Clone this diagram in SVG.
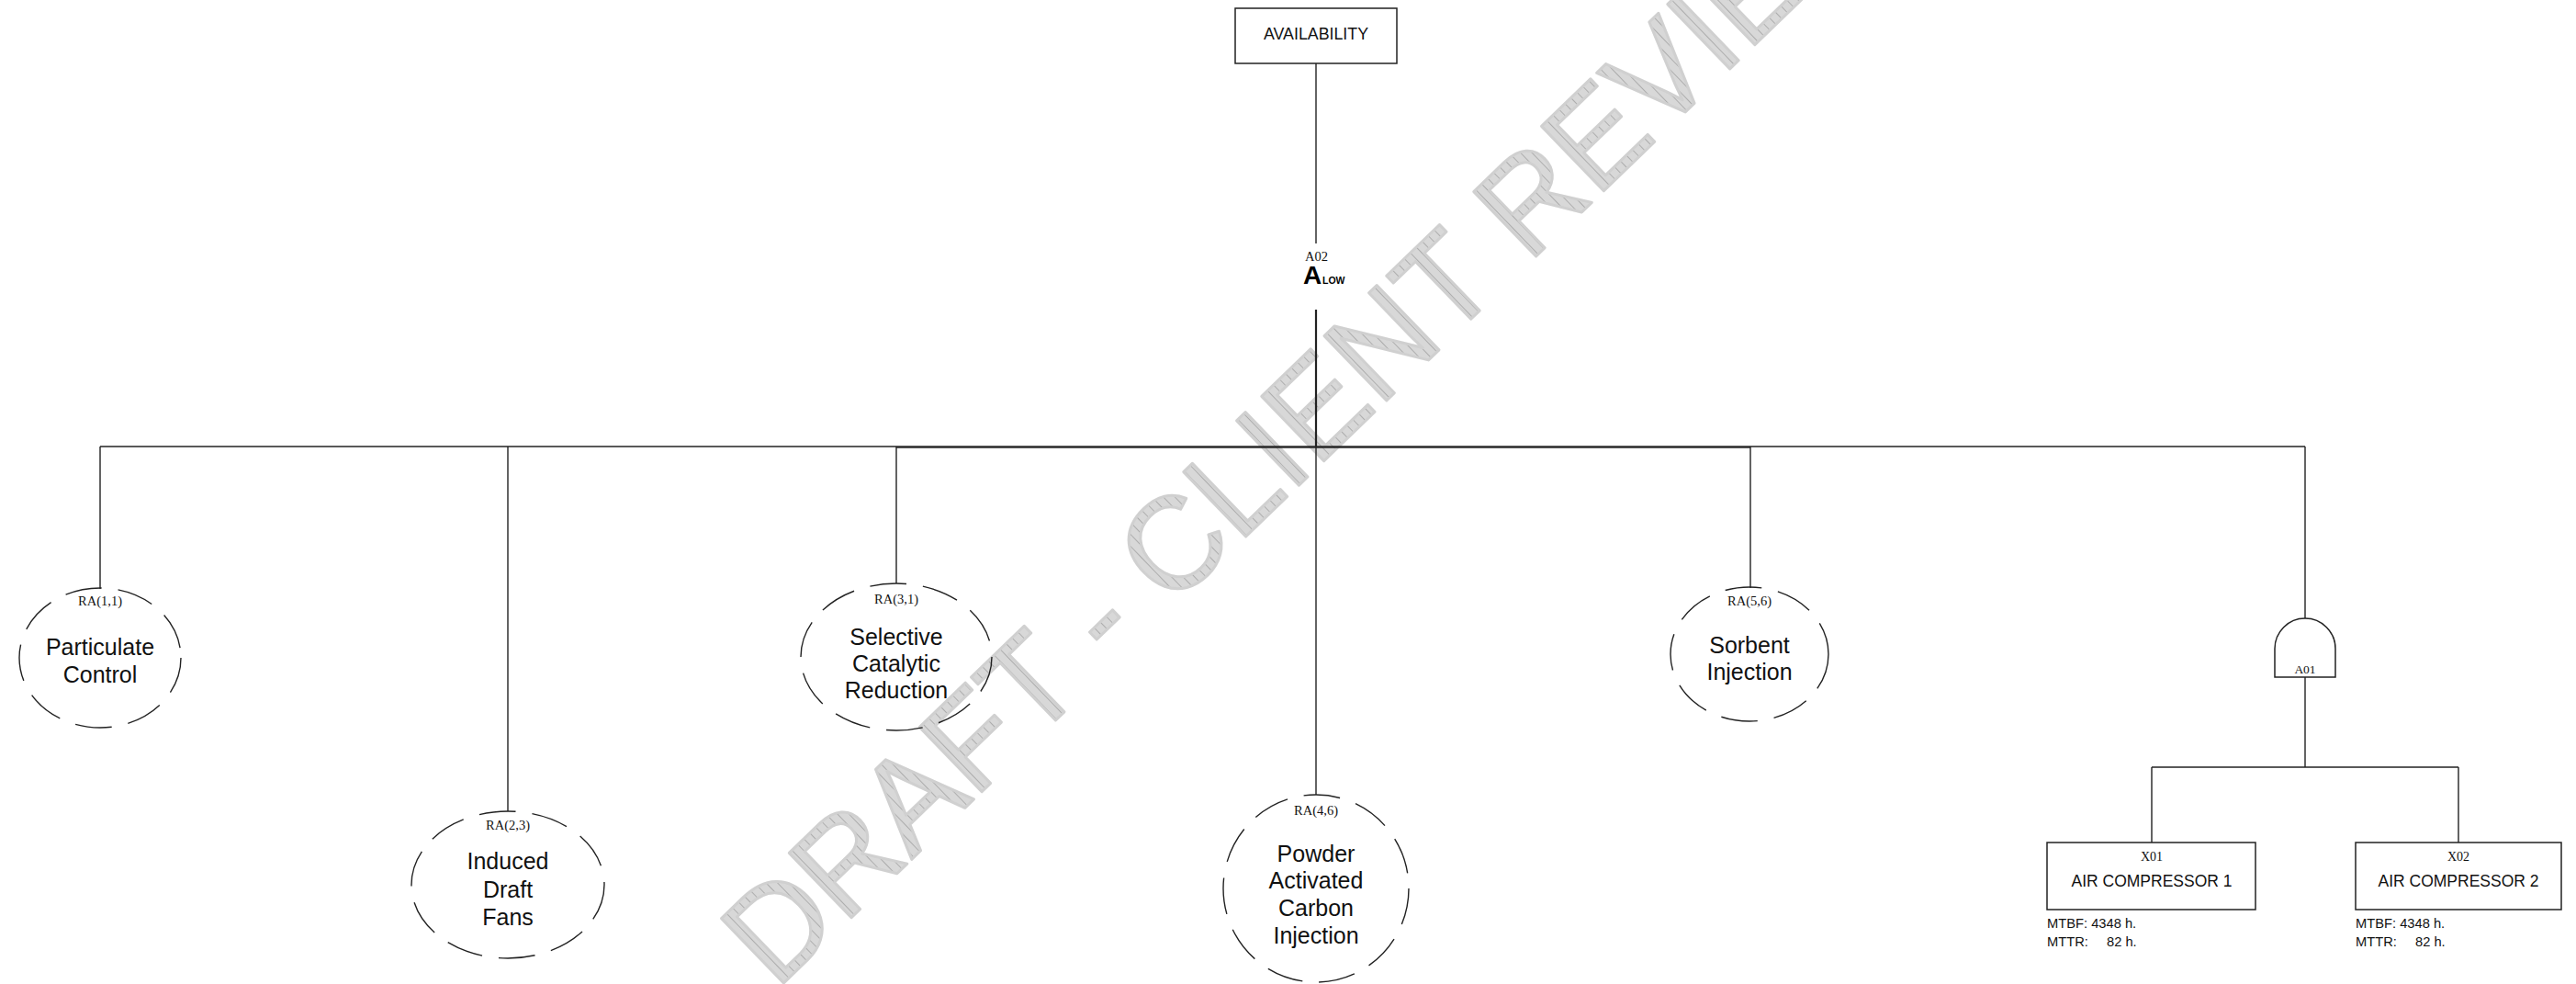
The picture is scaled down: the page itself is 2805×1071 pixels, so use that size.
<svg xmlns="http://www.w3.org/2000/svg" width="2805" height="1071" viewBox="0 0 2805 1071">
<style>
.ln{stroke:#222;stroke-width:1.4;fill:none}
.box{fill:#fff;stroke:#222;stroke-width:1.5}
.ell{fill:none;stroke:#222;stroke-width:1.4;stroke-dasharray:40 18}
.lbl{font-family:"Liberation Serif","Times New Roman",serif;font-size:14.5px;fill:#111;text-anchor:middle}
.big{font-family:"Liberation Sans",Arial,sans-serif;font-size:25px;fill:#111;text-anchor:middle}
.bx{font-family:"Liberation Sans",Arial,sans-serif;font-size:17.5px;fill:#111;text-anchor:middle}
.sm{font-family:"Liberation Sans",Arial,sans-serif;font-size:14.7px;fill:#111}
</style>
<defs>
<pattern id="hatch" width="9" height="9" patternUnits="userSpaceOnUse">
<rect width="9" height="9" fill="#d8d8d8"/>
<line x1="0.5" y1="0" x2="0.5" y2="9" stroke="#adadad" stroke-width="1"/>
</pattern>
</defs>
<text x="845" y="1078" transform="rotate(-44 845 1078)" font-family="'Liberation Sans',Arial,sans-serif" font-size="142" fill="url(#hatch)" stroke="#d0d0d0" stroke-width="3" stroke-linejoin="round">DRAFT - CLIENT REVIEW</text>
<g id="connectors">
<line class="ln" x1="1433" y1="69" x2="1433" y2="265"/>
<line class="ln" x1="1433" y1="337" x2="1433" y2="486" style="stroke-width:2.2"/>
<line class="ln" x1="109" y1="486" x2="2510" y2="486"/>
<line class="ln" x1="976" y1="487" x2="1906" y2="487"/>
<line class="ln" x1="109" y1="486" x2="109" y2="641"/>
<line class="ln" x1="553" y1="486" x2="553" y2="883"/>
<line class="ln" x1="976" y1="486" x2="976" y2="635"/>
<line class="ln" x1="1433" y1="486" x2="1433" y2="865"/>
<line class="ln" x1="1906" y1="486" x2="1906" y2="640"/>
<line class="ln" x1="2510" y1="486" x2="2510" y2="673"/>
<line class="ln" x1="2510" y1="737" x2="2510" y2="835"/>
<line class="ln" x1="2343" y1="835" x2="2677" y2="835"/>
<line class="ln" x1="2343" y1="835" x2="2343" y2="917"/>
<line class="ln" x1="2677" y1="835" x2="2677" y2="917"/>
</g>
<g id="availability">
<rect class="box" x="1345" y="9" width="176" height="60"/>
<text class="bx" x="1433" y="43" textLength="114" lengthAdjust="spacingAndGlyphs" style="font-size:18px">AVAILABILITY</text>
</g>
<g id="A02">
<text class="lbl" x="1421" y="284" style="text-anchor:start">A02</text>
<text x="1419" y="309" font-family="'Liberation Sans',Arial,sans-serif" font-weight="bold" font-size="28" fill="#000">A</text>
<text x="1440" y="309" font-family="'Liberation Sans',Arial,sans-serif" font-weight="bold" font-size="10.5" fill="#000">LOW</text>
</g>
<g id="RA11">
<ellipse class="ell" cx="109" cy="716" rx="88" ry="76"/>
<text class="lbl" x="109" y="659">RA(1,1)</text>
<text class="big" x="109" y="713">Particulate</text>
<text class="big" x="109" y="743">Control</text>
</g>
<g id="RA23">
<ellipse class="ell" cx="553" cy="963" rx="105" ry="80"/>
<text class="lbl" x="553" y="903">RA(2,3)</text>
<text class="big" x="553" y="946">Induced</text>
<text class="big" x="553" y="977">Draft</text>
<text class="big" x="553" y="1007">Fans</text>
</g>
<g id="RA31">
<ellipse class="ell" cx="976" cy="715" rx="104" ry="80"/>
<text class="lbl" x="976" y="657">RA(3,1)</text>
<text class="big" x="976" y="702">Selective</text>
<text class="big" x="976" y="731">Catalytic</text>
<text class="big" x="976" y="760">Reduction</text>
</g>
<g id="RA46">
<ellipse class="ell" cx="1433" cy="967" rx="101" ry="102"/>
<text class="lbl" x="1433" y="887">RA(4,6)</text>
<text class="big" x="1433" y="938">Powder</text>
<text class="big" x="1433" y="967">Activated</text>
<text class="big" x="1433" y="997">Carbon</text>
<text class="big" x="1433" y="1027">Injection</text>
</g>
<g id="RA56">
<ellipse class="ell" cx="1905" cy="712" rx="86" ry="73"/>
<text class="lbl" x="1905" y="659">RA(5,6)</text>
<text class="big" x="1905" y="711">Sorbent</text>
<text class="big" x="1905" y="740">Injection</text>
</g>
<g id="A01">
<path class="box" d="M2477,737 V706 A33,33 0 0 1 2543,706 V737 Z"/>
<text class="lbl" x="2510" y="733" style="font-size:13.5px">A01</text>
</g>
<g id="X01">
<rect class="box" x="2229" y="917" width="227" height="73"/>
<text class="lbl" x="2343" y="937" style="font-size:14px">X01</text>
<text class="bx" x="2343" y="965">AIR COMPRESSOR 1</text>
<text class="sm" x="2229" y="1010">MTBF: 4348 h.</text>
<text class="sm" x="2229" y="1030">MTTR:</text>
<text class="sm" x="2294" y="1030">82 h.</text>
</g>
<g id="X02">
<rect class="box" x="2565" y="917" width="224" height="73"/>
<text class="lbl" x="2677" y="937" style="font-size:14px">X02</text>
<text class="bx" x="2677" y="965">AIR COMPRESSOR 2</text>
<text class="sm" x="2565" y="1010">MTBF: 4348 h.</text>
<text class="sm" x="2565" y="1030">MTTR:</text>
<text class="sm" x="2630" y="1030">82 h.</text>
</g>
</svg>
